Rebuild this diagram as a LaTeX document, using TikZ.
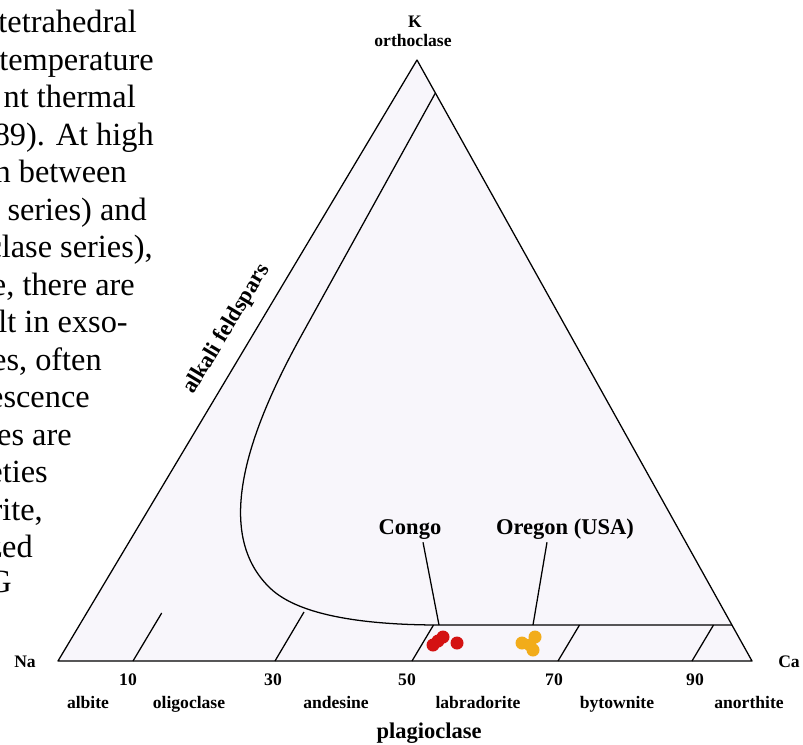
\documentclass[tikz,border=0pt]{standalone}
\usepackage{fontspec}
\setmainfont{Liberation Serif}
\usetikzlibrary{calc}

\definecolor{inside}{RGB}{248,246,251}
\definecolor{congored}{RGB}{212,18,18}
\definecolor{oregonyel}{RGB}{242,172,26}

\begin{document}
\begin{tikzpicture}[x=0.025cm, y=-0.025cm,
    edge/.style={line width=0.9pt, line join=round},
    lbl/.style={font=\fontsize{12.5}{14}\selectfont\bfseries, anchor=base, inner sep=0pt},
    big/.style={font=\fontsize{16}{18}\selectfont\bfseries, anchor=base, inner sep=0pt},
    prose/.style={font=\fontsize{23}{26}\selectfont, anchor=base east, inner sep=0pt}]
    \useasboundingbox (0,0) rectangle (803,744);
    \clip (0,0) rectangle (803,744);

	\coordinate (Na) at (58,661);
	\coordinate (Ca) at (752,661);
	\coordinate (K) at (417,60);

	% page text running down the left side
	\foreach \r/\b/\t [count=\i] in {137/32/{tetrahedral}, 154/70/{temperature},
		136/107/{nt thermal}, 154/145/{989). At high}, 127/182/{n between},
		147/220/{r series) and}, 153/257/{oclase series),}, 135/295/{e, there are},
		128/332/{ult in exso-}, 102/370/{es, often}, 90/407/{escence},
		72/445/{es are}, 48/482/{eties}, 43/520/{rite,}, 33/557/{zed}, 12/592/{G}}
		\node[prose] (line\i) at (\r,\b) {\t};

	% ternary triangle Na - Ca - K
	\fill[inside] (Na) -- (Ca) -- (K) -- cycle;
	\draw[edge] (Na) -- (Ca) -- (K) -- cycle;
	\node[lbl] (na) at (25,667) {Na};
	\node[lbl, anchor=base west] (ca) at (778,667) {Ca};
	\node[lbl] (k) at (415,27) {K};
	\node[lbl] (ortho) at (413,46) {orthoclase};

	% solvus: alkali feldspars / plagioclase
	\draw[edge] (435.4,93) -- (300,338) .. controls (244,440) and (215,535) .. (270,588)
		.. controls (300,617) and (370,625) .. (440,625) -- (732,625);
	\node[big, anchor=center, rotate=59] (alkali) at (227,329) {alkali feldspars};

	% plagioclase divisions
	\draw[edge] (133,661) -- (161.7,613);
	\draw[edge] (275,661) -- (304,612);
	\draw[edge] (412,661) -- (433.5,625);
	\draw[edge] (558,661) -- (579.5,625);
	\draw[edge] (692,661) -- (713.5,625);

	\node[lbl] (n10) at (128,685) {10};
	\node[lbl] (n30) at (273,685) {30};
	\node[lbl] (n50) at (407,685) {50};
	\node[lbl] (n70) at (554,685) {70};
	\node[lbl] (n90) at (695,685) {90};

	\node[lbl] (albite) at (88,708) {albite};
	\node[lbl] (oligo) at (189,708) {oligoclase};
	\node[lbl] (andes) at (336,708) {andesine};
	\node[lbl] (labra) at (478,708) {labradorite};
	\node[lbl] (bytow) at (617,708) {bytownite};
	\node[lbl] (anort) at (749,708) {anorthite};
	\node[big] (plag) at (429,738) {plagioclase};

	% samples
	\fill[congored] (433,645) circle[radius=6.5];
	\fill[congored] (438,641) circle[radius=6.5];
	\fill[congored] (443,637) circle[radius=6.5];
	\fill[congored] (457,643) circle[radius=6.5];
	\fill[oregonyel] (522,643) circle[radius=6.5];
	\fill[oregonyel] (530,645) circle[radius=6.5];
	\fill[oregonyel] (535,637) circle[radius=6.5];
	\fill[oregonyel] (533,650) circle[radius=6.5];

	\node[big] (congo) at (410,534) {Congo};
	\node[big] (oregon) at (565,534) {Oregon (USA)};
	\coordinate (congotip) at (439,625);
	\coordinate (oregontip) at (533,625);
	\draw[edge] ($(congo.south)+(13,3)$) -- (congotip);
	\draw[edge] ($(oregon.south)+(-18,3)$) -- (oregontip);
\end{tikzpicture}
\end{document}
